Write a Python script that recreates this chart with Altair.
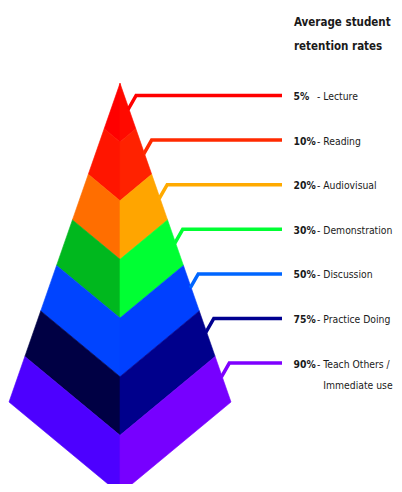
import altair as alt
import pandas as pd

# ---- data ----
pcts = ["5%", "10%", "20%", "30%", "50%", "75%", "90%"]
labels = ["- Lecture", "- Reading", "- Audiovisual", "- Demonstration",
          "- Discussion", "- Practice Doing", "- Teach Others /"]
second_line = ["", "", "", "", "", "", "Immediate use"]
title_lines = ["Average student", "retention rates"]

left_face = ["#FF0000", "#FF1500", "#FF6E00", "#00B81E", "#0044FF", "#000044", "#4D00FF"]
right_face = ["#FF0A00", "#FF2200", "#FFA500", "#00FF33", "#0040FF", "#00008C", "#7700FF"]
leader_col = ["#FF0000", "#FF2A00", "#FFAA00", "#00FF33", "#0066FF", "#000090", "#7F00FF"]

# ---- layout (plot-area pixel coordinates) ----
W, H = 386, 476
OX, OY = 8, 8
FONT = "DejaVu Sans Condensed, Liberation Sans, sans-serif"
LABEL_SIZE = 10.3
TITLE_SIZE = 11.5
apex = (120 - OX, 83.3 - OY)
left_c = (9 - OX, 402 - OY)
right_c = (231 - OX, 402 - OY)
front = (120 - OX, 494 - OY)
n = len(pcts)


def lerp(p, q, t):
    return (p[0] + (q[0] - p[0]) * t, p[1] + (q[1] - p[1]) * t)


features = []
for k in range(n):
    t0, t1 = k / n, (k + 1) / n
    l0, l1 = lerp(apex, left_c, t0), lerp(apex, left_c, t1)
    c0, c1 = lerp(apex, front, t0), lerp(apex, front, t1)
    r0, r1 = lerp(apex, right_c, t0), lerp(apex, right_c, t1)
    for ring, color in (([l0, c0, c1, l1, l0], left_face[k]),
                        ([c0, r0, r1, c1, c0], right_face[k])):
        features.append({
            "type": "Feature",
            "properties": {"color": color},
            "geometry": {"type": "Polygon",
                         "coordinates": [[[p[0], p[1]] for p in ring]]},
        })

pct_x = 293.5 - OX
label_x = 317 - OX
cont_x = label_x + 0.611 * LABEL_SIZE  # aligned under the word after "- "

line_rows = []
text_rows = []
for k in range(n):
    ly = 95.5 + 44.6 * k - OY
    sy = ly + 14
    sx = apex[0] + (sy - apex[1]) * (right_c[0] - apex[0]) / (right_c[1] - apex[1]) - 1
    pts = [(sx, sy), (sx + 8, ly), (282 - OX, ly)]
    for i, (x, y) in enumerate(pts):
        line_rows.append({"id": k, "o": i, "x": x, "y": y, "c": leader_col[k]})
    text_rows.append({"x": pct_x, "y": ly + 1.5, "t": pcts[k], "w": "bold"})
    text_rows.append({"x": label_x, "y": ly + 1.5, "t": labels[k], "w": "normal"})
    if second_line[k]:
        text_rows.append({"x": cont_x, "y": ly + 23, "t": second_line[k], "w": "normal"})

title_rows = [{"x": 294 - OX, "y": 23 - OY + 23.5 * i, "t": t} for i, t in enumerate(title_lines)]

xs = alt.Scale(domain=[0, W], nice=False, zero=False)
ys = alt.Scale(domain=[0, H], nice=False, zero=False, reverse=True)

pyramid = alt.Chart(alt.Data(values=features)).mark_geoshape(strokeWidth=0.6).encode(
    fill=alt.Color("properties.color:N", scale=None),
    stroke=alt.Color("properties.color:N", scale=None),
).project(type="identity", scale=1, translate=[0, 0])

leaders = alt.Chart(pd.DataFrame(line_rows)).mark_line(strokeWidth=3.5, strokeJoin="miter").encode(
    x=alt.X("x:Q", scale=xs, axis=None),
    y=alt.Y("y:Q", scale=ys, axis=None),
    detail="id:N",
    order="o:Q",
    color=alt.Color("c:N", scale=None),
)

df_t = pd.DataFrame(text_rows)
pct_text = alt.Chart(df_t[df_t.w == "bold"]).mark_text(
    align="left", baseline="middle", font=FONT, fontSize=LABEL_SIZE, fontWeight="bold", color="#1a1a1a"
).encode(x=alt.X("x:Q", scale=xs, axis=None), y=alt.Y("y:Q", scale=ys, axis=None), text="t:N")

lab_text = alt.Chart(df_t[df_t.w == "normal"]).mark_text(
    align="left", baseline="middle", font=FONT, fontSize=LABEL_SIZE, color="#1a1a1a"
).encode(x=alt.X("x:Q", scale=xs, axis=None), y=alt.Y("y:Q", scale=ys, axis=None), text="t:N")

title = alt.Chart(pd.DataFrame(title_rows)).mark_text(
    align="left", baseline="middle", font=FONT, fontSize=TITLE_SIZE, fontWeight="bold", color="#1a1a1a"
).encode(x=alt.X("x:Q", scale=xs, axis=None), y=alt.Y("y:Q", scale=ys, axis=None), text="t:N")

chart = alt.layer(pyramid, leaders, pct_text, lab_text, title).properties(
    width=W, height=H, padding=0, autosize=alt.AutoSizeParams(type="none")
).configure_view(stroke=None)

chart.save("out.html", embed_options={"renderer": "svg", "actions": False})
